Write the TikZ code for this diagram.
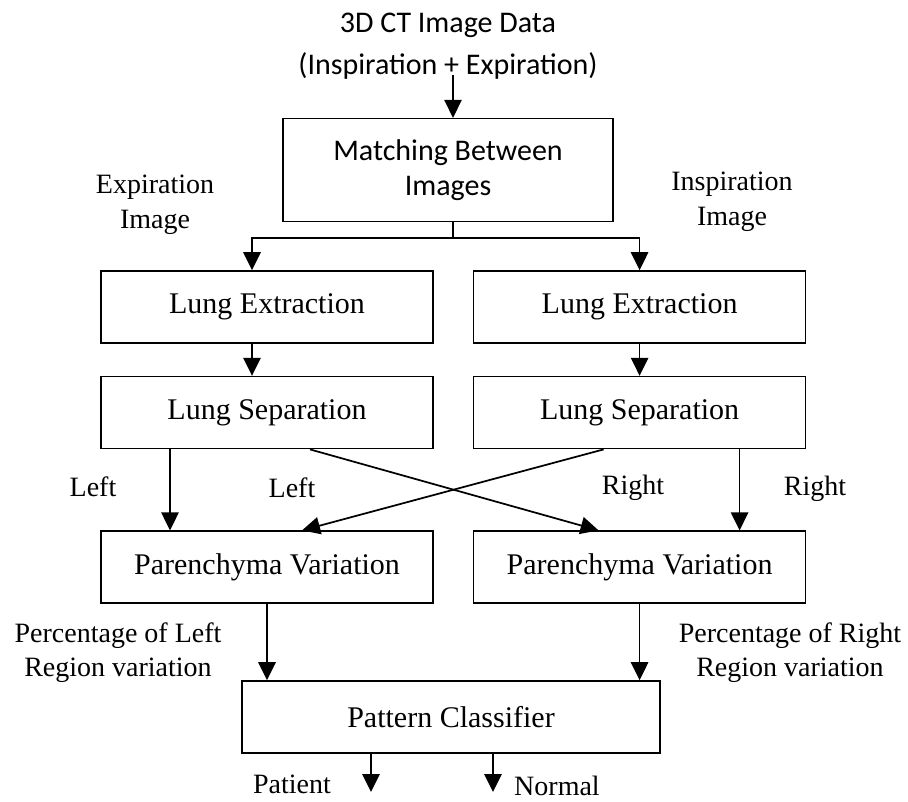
\documentclass[tikz,border=0pt]{standalone}
\usepackage{fontspec}
\setmainfont{Liberation Serif}
\newfontfamily\calibri{Carlito}
\usepackage{tikz}
\usetikzlibrary{arrows.meta,positioning,calc}

\begin{document}
\begin{tikzpicture}[
  x=0.75pt, y=-0.75pt,
  box/.style={draw, line width=1.2pt, minimum width=249pt, minimum height=54pt, inner sep=0pt, align=center, font=\fontsize{22.5}{27}\selectfont},
  lbl/.style={align=center, inner sep=0pt, font=\fontsize{21}{26}\selectfont},
  flow/.style={->, line width=1.3pt},
  >={Triangle[length=13.5pt, width=13pt]}
]
  \useasboundingbox (0,0) rectangle (908,801);

  % Nodes
  \node[align=center, inner sep=0pt, font=\calibri\fontsize{22.5}{31.5}\selectfont] (ct) at (448,46) {3D CT Image Data\\(Inspiration + Expiration)};
  \node[box, font=\calibri\fontsize{22.5}{26}\selectfont, minimum width=247.5pt, minimum height=77pt] (match) at (448,170) {Matching Between\\Images};
  \node[box] (extL) at (267,307) {Lung Extraction};
  \node[box, right=29.25pt of extL] (extR) {Lung Extraction};
  \node[box, below=24pt of extL] (sepL) {Lung Separation};
  \node[box, below=24pt of extR] (sepR) {Lung Separation};
  \node[box, below=60.75pt of sepL] (parL) {Parenchyma Variation};
  \node[box, below=60.75pt of sepR] (parR) {Parenchyma Variation};
  \node[box, minimum width=313.5pt] (pat) at (451,717) {Pattern Classifier};

  % Labels
  \node[lbl] (expImg) at (155,205) {Expiration\\Image};
  \node[lbl] (inspImg) at (732,202) {Inspiration\\Image};
  \node[lbl] (leftA) at (93,487) {Left};
  \node[lbl] (leftB) at (292,488) {Left};
  \node[lbl] (rightA) at (633,488) {Right};
  \node[lbl] (rightB) at (815,489) {Right};
  \node[lbl, font=\fontsize{21}{25.5}\selectfont] (pctL) at (118,653) {Percentage of Left\\Region variation};
  \node[lbl, font=\fontsize{21}{25.5}\selectfont] (pctR) at (790,653) {Percentage of Right\\Region variation};
  \node[lbl] (patient) at (292,784) {Patient};
  \node[lbl] (normal) at (557,786) {Normal};

  \coordinate (split) at (453,238);
  \coordinate (patEnd) at (371,792);
  \coordinate (normEnd) at (493,792);

  % Arrows
  \draw[flow] (ct.south -| split) ++(0,-4) -- (match.north -| split);
  \draw[line width=1.3pt] (match.south -| split) -- (split);
  \draw[flow] (split) -| ([xshift=-11.25pt]extL.north);
  \draw[flow] (split) -| (extR.north);
  \draw[flow] ([xshift=-11.25pt]extL.south) -- ([xshift=-11.25pt]sepL.north);
  \draw[flow] (extR) -- (sepR);
  \draw[flow] ([xshift=-72.75pt]sepL.south) -- ([xshift=-72.75pt]parL.north);
  \draw[flow] ([xshift=32.25pt]sepL.south) -- ([xshift=-30.75pt]parR.north);
  \draw[flow] ([xshift=-27pt]sepR.south) -- ([xshift=26.25pt]parL.north);
  \draw[flow] ([xshift=75pt]sepR.south) -- ([xshift=75pt]parR.north);
  \draw[flow] (parL.south) -- (parL.south |- pat.north);
  \draw[flow] (parR.south) -- (parR.south |- pat.north);
  \draw[flow] (pat.south -| patEnd) -- (patEnd);
  \draw[flow] (pat.south -| normEnd) -- (normEnd);
\end{tikzpicture}
\end{document}
